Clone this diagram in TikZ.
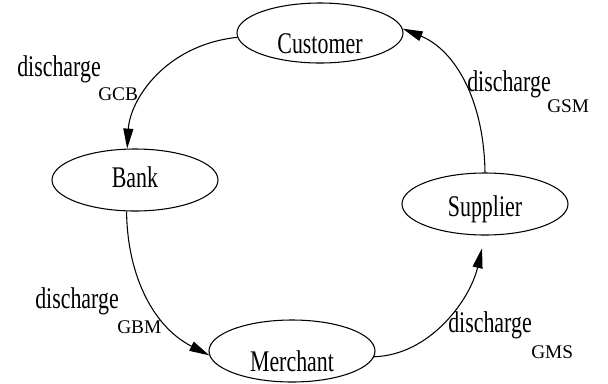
\documentclass[tikz,border=0pt]{standalone}
\usepackage{fontspec}
\setmainfont{Liberation Serif}[FakeStretch=0.73]
\newfontfamily\subfont{Liberation Serif}
\usetikzlibrary{arrows.meta,shapes.geometric}
\newcommand{\lowtext}[2]{\raisebox{-#1pt}[0pt][0pt]{#2}}
\tikzset{
  state/.style={draw,ellipse,line width=0.8pt,minimum width=124.5pt,minimum height=46.5pt,inner sep=0pt,
    font=\fontsize{22.5}{25}\selectfont},
  mainlbl/.style={anchor=base west,inner sep=0pt,font=\fontsize{22.5}{25}\selectfont},
  sublbl/.style={anchor=base west,inner sep=0pt,font=\subfont\fontsize{14.5}{16}\selectfont},
  edge/.style={line width=0.8pt,-{Triangle[length=15pt,width=7.5pt]}}
}
\begin{document}
\begin{tikzpicture}[x=0.75pt,y=-0.75pt]
\useasboundingbox (0,0) rectangle (608,383);
\node[state,minimum height=45pt] (cust) at (320,33) {\lowtext{15}{Customer}};
\node[state] (bank) at (135,180) {\lowtext{5.3}{Bank}};
\node[state] (sup) at (485,204) {\lowtext{9.5}{Supplier}};
\node[state] (merch) at (292,351) {\lowtext{15.5}{Merchant}};

\draw[edge] (cust.183) .. controls (165,45) and (130,100) .. (bank.104);
\draw[edge] (bank.255) .. controls (127,270) and (150,325) .. (merch.183);
\draw[edge,shorten >=9.75pt] (merch.356) .. controls (430,355) and (470,300) .. (sup.south);
\draw[edge] (sup.north) .. controls (484,100) and (455,50) .. (cust.3);

\node[mainlbl] (l1) at (17,76) {discharge};
\node[sublbl] (s1) at (98,100) {GCB};
\node[mainlbl] (l2) at (467,91) {discharge};
\node[sublbl] (s2) at (547,112) {GSM};
\node[mainlbl] (l3) at (35,308) {discharge};
\node[sublbl] (s3) at (117,333) {GBM};
\node[mainlbl] (l4) at (448,332) {discharge};
\node[sublbl] (s4) at (531,358) {GMS};
\end{tikzpicture}
\end{document}
